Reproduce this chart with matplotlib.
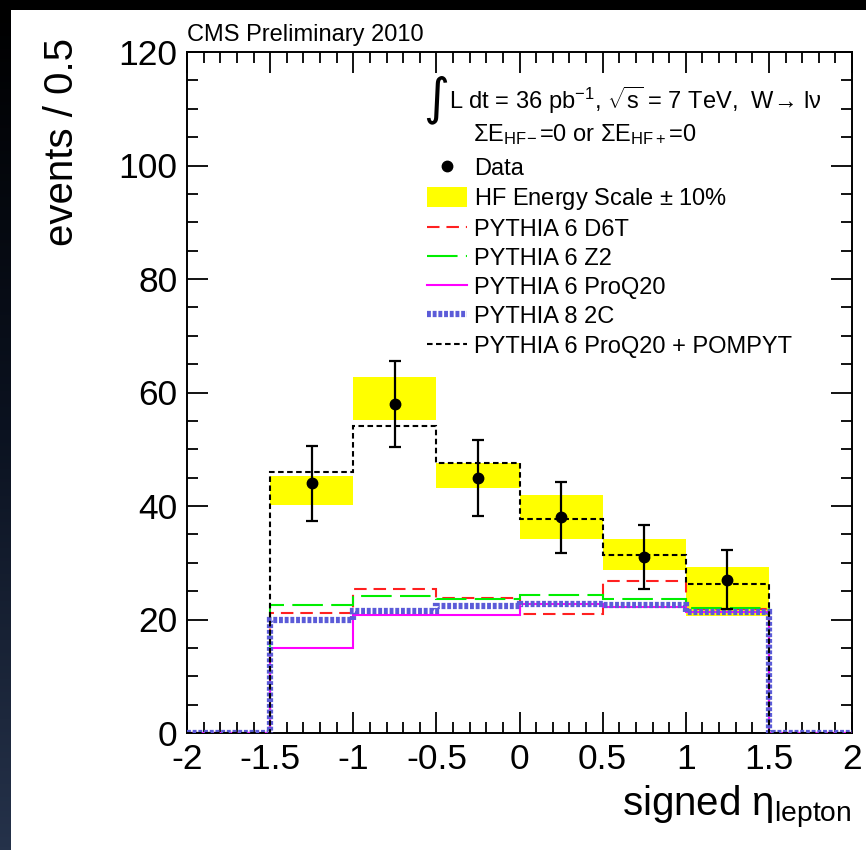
import numpy as np
import matplotlib
matplotlib.use("Agg")
import matplotlib.pyplot as plt
from matplotlib.lines import Line2D
from matplotlib.patches import Patch, Rectangle
from matplotlib.ticker import MultipleLocator
from matplotlib.colors import LinearSegmentedColormap

plt.rcParams['font.family'] = ['Liberation Sans', 'DejaVu Sans']
plt.rcParams['mathtext.fontset'] = 'custom'
plt.rcParams['mathtext.rm'] = 'Liberation Sans'
plt.rcParams['mathtext.it'] = 'Liberation Sans:italic'
plt.rcParams['mathtext.bf'] = 'Liberation Sans:bold'
plt.rcParams['axes.unicode_minus'] = False
plt.rcParams['lines.scale_dashes'] = False

# ---- histogram binning (signed lepton eta) ----
bin_edges = [-2.0, -1.5, -1.0, -0.5, 0.0, 0.5, 1.0, 1.5, 2.0]

# ---- measured data ----
data_centers = [-1.25, -0.75, -0.25, 0.25, 0.75, 1.25]
data_counts = [44, 58, 45, 38, 31, 27]
data_errors = [6.6, 7.6, 6.7, 6.2, 5.6, 5.2]

# ---- HF energy scale +-10% envelope ----
band_low = [0, 40.2, 55.2, 43.2, 34.1, 28.7, 20.6, 0]
band_high = [0, 45.3, 62.8, 47.6, 42.0, 34.1, 29.3, 0]

# ---- MC predictions ----
pythia6_d6t = [0, 21.1, 25.3, 23.8, 20.9, 26.8, 21.8, 0]
pythia6_z2 = [0, 22.6, 24.1, 23.7, 24.4, 23.7, 22.0, 0]
pythia6_proq20 = [0, 15.0, 20.8, 20.8, 22.7, 22.2, 21.4, 0]
pythia8_2c = [0, 20.0, 21.5, 22.3, 22.7, 22.6, 21.4, 0]
pythia6_proq20_pompyt = [0, 46.0, 54.1, 47.5, 37.7, 31.3, 26.2, 0]

W, H = 866, 850
fig = plt.figure(figsize=(W / 100, H / 100), dpi=100)
fig.patch.set_facecolor('white')

# dark slide frame: black band on top, dark gradient strip on the left
fig.patches.append(Rectangle((0, 1 - 10 / H), 1, 10 / H, transform=fig.transFigure,
                             facecolor='black', edgecolor='none', zorder=0))
strip = fig.add_axes([0, 0, 11 / W, 1 - 10 / H])
grad = np.linspace(0, 1, 256)[:, None]
cmap = LinearSegmentedColormap.from_list('frame', ['#000000', '#0b1220', '#25324a'])
strip.imshow(grad, aspect='auto', cmap=cmap, extent=[0, 1, 0, 1])
strip.axis('off')

L, R, B, T = 187, 852, 733, 52
ax = fig.add_axes([L / W, 1 - B / H, (R - L) / W, (B - T) / H])


def ax_xy(px, py):
    """Pixel position in the figure -> axes fraction."""
    return (px - L) / (R - L), 1 - (py - T) / (B - T)


# uncertainty band
ax.stairs(band_high, bin_edges, baseline=band_low, fill=True, color='#ffff00',
          linewidth=0, zorder=1)

# MC histograms
d6t_style = dict(color='#ff2020', linewidth=1.5, linestyle=(0, (9, 5)))
z2_style = dict(color='#00ee00', linewidth=1.5, linestyle=(0, (22, 6)))
proq_style = dict(color='#ff00ff', linewidth=1.5)
p8_style = dict(color='#5b5bd8', linewidth=4.5, linestyle=(0, (2.8, 1.3)))
pomp_style = dict(color='black', linewidth=1.5, linestyle=(0, (4, 2.5)))

ax.stairs(pythia6_d6t, bin_edges, baseline=None, zorder=2, **d6t_style)
ax.stairs(pythia6_z2, bin_edges, baseline=None, zorder=2, **z2_style)
ax.stairs(pythia6_proq20, bin_edges, baseline=None, zorder=3, **proq_style)
ax.stairs(pythia8_2c, bin_edges, baseline=None, zorder=4, **p8_style)
ax.stairs(pythia6_proq20_pompyt, bin_edges, baseline=None, zorder=5, **pomp_style)

# data points
ax.errorbar(data_centers, data_counts, yerr=data_errors, fmt='o', color='black',
            markersize=7.5, elinewidth=1.6, capsize=4.5, capthick=1.6, zorder=6)

ax.set_xlim(-2, 2)
ax.set_ylim(0, 120)
ax.xaxis.set_major_locator(MultipleLocator(0.5))
ax.xaxis.set_minor_locator(MultipleLocator(0.1))
ax.yaxis.set_major_locator(MultipleLocator(20))
ax.yaxis.set_minor_locator(MultipleLocator(5))
ax.xaxis.set_major_formatter(plt.FuncFormatter(lambda v, p: f'{v:g}'))
ax.tick_params(which='both', direction='in', top=True, right=True, width=1.3,
               labelsize=25.5, colors='black')
ax.tick_params(which='major', length=15)
ax.tick_params(which='minor', length=8)
ax.tick_params(axis='y', which='major', pad=7)
ax.tick_params(axis='x', which='major', pad=7)
for s in ax.spines.values():
    s.set_linewidth(1.4)

ax.set_ylabel('events / 0.5', fontsize=29, loc='top', labelpad=27)
ax.yaxis.label.set_y(1.02)
ax.set_xlabel(r'signed $\mathregular{\eta_{lepton}}$', fontsize=29, loc='right',
              labelpad=6)

fig.text(L / W, 1 - 35 / H, 'CMS Preliminary 2010', fontsize=17, va='center',
         ha='left')

# header text of the legend block
ax.text(*ax_xy(423, 100), '\u222b', transform=ax.transAxes, fontsize=36,
        family='DejaVu Sans', va='center', ha='left')
ax.text(*ax_xy(449, 100),
        'L dt = 36 pb$^{\\mathregular{-1}}$, $\\sqrt{\\mathregular{s}}$ = 7 TeV,  W\u2192 l\u03bd',
        transform=ax.transAxes, fontsize=17, va='center', ha='left')
ax.text(*ax_xy(473, 135),
        r'$\Sigma$E$_{\mathregular{HF\!-}}$=0 or $\Sigma$E$_{\mathregular{HF+}}$=0',
        transform=ax.transAxes, fontsize=17, va='center', ha='left')

handles = [
    Line2D([], [], marker='o', color='black', linestyle='none', markersize=7.5),
    Patch(facecolor='#ffff00', edgecolor='none'),
    Line2D([], [], **d6t_style),
    Line2D([], [], **z2_style),
    Line2D([], [], **proq_style),
    Line2D([], [], **p8_style),
    Line2D([], [], **pomp_style),
]
labels = ['Data', r'HF Energy Scale $\pm$ 10%', 'PYTHIA 6 D6T', 'PYTHIA 6 Z2',
          'PYTHIA 6 ProQ20', 'PYTHIA 8 2C', 'PYTHIA 6 ProQ20 + POMPYT']
leg = ax.legend(handles, labels, loc='upper left',
                bbox_to_anchor=ax_xy(427, 157),
                frameon=False, fontsize=17, handlelength=1.7, handleheight=0.9,
                handletextpad=0.3, labelspacing=0.26, borderpad=0, borderaxespad=0)

fig.savefig('out.png', dpi=100, facecolor='white')
